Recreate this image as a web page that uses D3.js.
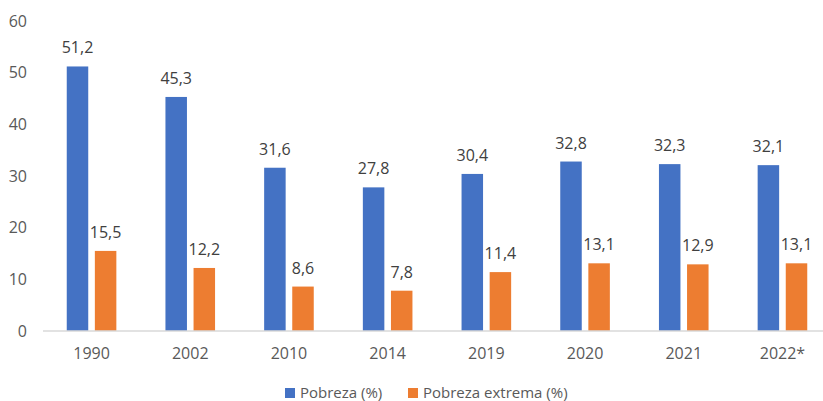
<!DOCTYPE html>
<html>
<head>
<meta charset="utf-8">
<script src="https://cdn.jsdelivr.net/npm/d3@7"></script>
<style>
  html, body { margin: 0; padding: 0; background: #fff; }
  svg { display: block; font-family: "Open Sans", "Noto Sans", sans-serif; }
</style>
</head>
<body>
<svg id="chart" width="823" height="401"></svg>
<script>
// Poverty rates by year
const years = ["1990", "2002", "2010", "2014", "2019", "2020", "2021", "2022*"];
const pobreza = [51.2, 45.3, 31.6, 27.8, 30.4, 32.8, 32.3, 32.1];
const pobrezaExtrema = [15.5, 12.2, 8.6, 7.8, 11.4, 13.1, 12.9, 13.1];
const seriesNames = ["Pobreza (%)", "Pobreza extrema (%)"];
const seriesColors = ["#4472C4", "#ED7D31"];
const yTicks = [0, 10, 20, 30, 40, 50, 60];

const seriesValues = [pobreza, pobrezaExtrema];
const svg = d3.select("#chart");

const x0 = d3.scaleBand().domain(years).range([42.2, 831.8]).paddingInner(0).paddingOuter(0);
const x1 = d3.scaleBand().domain(seriesNames).range([-24.8, 24.8]).paddingInner(0.235);
const y = d3.scaleLinear().domain([0, 60]).range([331, 21]);

const fmt = v => d3.format(".1f")(v).replace(".", ",");

// Y tick labels (no axis line)
const yAxis = d3.axisLeft(y).tickValues(yTicks).tickSize(0).tickPadding(0);
const gy = svg.append("g").attr("transform", "translate(27,0)").call(yAxis);
gy.select(".domain").remove();
gy.selectAll("text").attr("font-size", 16).attr("fill", "#595959")
  .attr("font-family", "'Open Sans', 'Noto Sans', sans-serif");

// Bars
years.forEach((yr, i) => {
  const g = svg.append("g").attr("transform", `translate(${x0(yr) + x0.bandwidth() / 2},0)`);
  seriesNames.forEach((s, k) => {
    const v = seriesValues[k][i];
    g.append("rect")
      .attr("x", x1(s))
      .attr("y", y(v))
      .attr("width", x1.bandwidth())
      .attr("height", y(0) - y(v))
      .attr("fill", seriesColors[k]);
    g.append("text")
      .attr("x", x1(s) + x1.bandwidth() / 2)
      .attr("y", y(v) - 13)
      .attr("text-anchor", "middle")
      .attr("font-size", 16)
      .attr("fill", "#404040")
      .text(fmt(v));
  });
});

// X axis
const xAxis = d3.axisBottom(x0).tickSize(0).tickPadding(0);
const gx = svg.append("g").attr("transform", `translate(0,${y(0)})`).call(xAxis);
gx.select(".domain").remove();
gx.append("line").attr("x1", 43).attr("x2", 823).attr("y1", 0).attr("y2", 0)
  .attr("stroke", "#D9D9D9").attr("stroke-width", 1.5);
gx.selectAll(".tick text").attr("font-size", 16).attr("fill", "#595959")
  .attr("font-family", "'Open Sans', 'Noto Sans', sans-serif")
  .attr("dy", 0).attr("y", 28);

// Legend
const legendItems = [
  { name: seriesNames[0], color: seriesColors[0], x: 285 },
  { name: seriesNames[1], color: seriesColors[1], x: 408 }
];
const lg = svg.append("g");
legendItems.forEach(it => {
  lg.append("rect").attr("x", it.x).attr("y", 388).attr("width", 10).attr("height", 10).attr("fill", it.color);
  lg.append("text").attr("x", it.x + 15).attr("y", 398).attr("font-size", 15)
    .attr("fill", "#595959").text(it.name);
});
</script>
</body>
</html>
